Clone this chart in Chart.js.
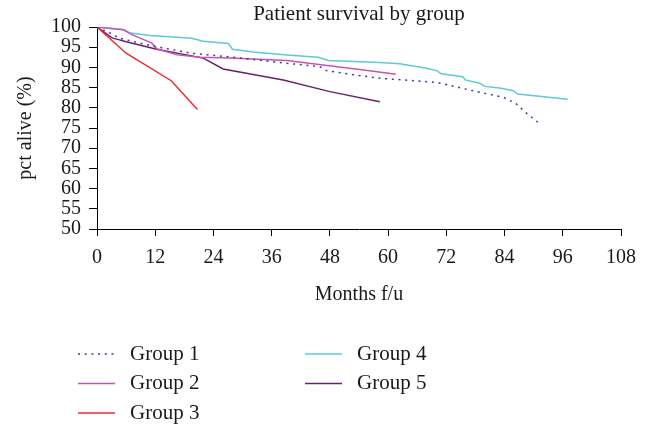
<!DOCTYPE html>
<html>
<head>
<meta charset="utf-8">
<script src="https://cdn.jsdelivr.net/npm/chart.js@4.4.1/dist/chart.umd.min.js"></script>
<style>
  html, body { margin: 0; padding: 0; background: #ffffff; }
  #wrap { width: 648px; height: 429px; position: relative; }
</style>
</head>
<body>
<div id="wrap"><canvas id="c" width="648" height="429"></canvas></div>
<script>
// ---- Data ----
const chartTitle = "Patient survival by group";
const xAxisTitle = "Months f/u";
const yAxisTitle = "pct alive (%)";
const groupLabels = ["Group 1", "Group 2", "Group 3", "Group 4", "Group 5"];

const g1Months = [0, 3.4, 4.4, 11, 19.5, 27.4, 37.7, 45.9, 47.3, 52.8, 58.3, 63.1, 70, 76.8, 83.7, 86.3, 88.3, 91.6];
const g1Alive  = [100, 98.1, 97.3, 95.4, 93.5, 92.6, 91.2, 90.2, 89.2, 88.2, 87.3, 86.9, 86.3, 84.4, 82.6, 81.1, 78.9, 75.7];

const g2Months = [0, 5.5, 7.2, 11.3, 12.3, 16.5, 21.3, 27.4, 39.1, 56.2, 61.6];
const g2Alive  = [100, 99.3, 98.1, 96.0, 94.6, 93.1, 92.5, 92.3, 91.7, 89.2, 88.3];

const g3Months = [0, 6, 15.3, 20.7];
const g3Alive  = [100, 93.5, 86.7, 79.6];

const g4Months = [0, 5.5, 6.85, 11, 19.5, 21.9, 27.1, 27.9, 32.2, 39.1, 45.6, 47.7, 58.3, 62.4, 67.9, 70, 71, 75.4, 75.9, 78.9, 79.9, 83, 85.7, 86.7, 97];
const g4Alive  = [100, 99.3, 98.5, 97.9, 97.2, 96.5, 95.9, 94.5, 93.8, 93.05, 92.5, 91.7, 91.2, 90.9, 89.8, 89.2, 88.4, 87.7, 86.9, 86.1, 85.3, 84.9, 84.3, 83.4, 82.1];

const g5Months = [0, 3.1, 6.85, 12.3, 21.9, 26, 38.4, 48, 58.3];
const g5Alive  = [100, 97.3, 96.1, 94.5, 92.3, 89.6, 86.9, 84.0, 81.5];

const xTicks = [0, 12, 24, 36, 48, 60, 72, 84, 96, 108];
const yTicks = [50, 55, 60, 65, 70, 75, 80, 85, 90, 95, 100];

// ---- Styling ----
const FONT = "'Liberation Serif', 'Times New Roman', serif";
const TEXT = '#1a1a1a';
const colors = ["#3d3d8f", "#c455b6", "#ee2a2a", "#5ec9d7", "#6b206e"];
const dashes = [[2, 4.7], [], [], [], []];

function pts(xs, ys) { return xs.map((x, i) => ({ x: x, y: ys[i] })); }
const series = [[g1Months, g1Alive], [g2Months, g2Alive], [g3Months, g3Alive], [g4Months, g4Alive], [g5Months, g5Alive]];

const datasets = series.map((s, i) => ({
  label: groupLabels[i],
  data: pts(s[0], s[1]),
  borderColor: colors[i],
  backgroundColor: colors[i],
  borderWidth: 1.5,
  borderDash: dashes[i],
  pointRadius: 0,
  fill: false,
  tension: 0
}));

// title centred over the plot area
const plotTitle = {
  id: 'plotTitle',
  afterDraw(chart) {
    const ctx = chart.ctx, a = chart.chartArea;
    ctx.save();
    ctx.font = "21px " + FONT;
    ctx.fillStyle = TEXT;
    ctx.textAlign = 'center';
    ctx.textBaseline = 'middle';
    ctx.fillText(chartTitle, (a.left + a.right) / 2, 14);
    ctx.restore();
  }
};

// custom two-column legend drawn from dataset properties
const legendLayout = {
  columns: [[0, 1, 2], [3, 4]],
  colX: [78, 305],
  rowY0: 354,
  rowGap: 29.5,
  lineLen: 37,
  textGap: 15
};
const columnLegend = {
  id: 'columnLegend',
  afterDraw(chart) {
    const ctx = chart.ctx;
    ctx.save();
    ctx.font = "21px " + FONT;
    ctx.textBaseline = 'middle';
    ctx.textAlign = 'left';
    legendLayout.columns.forEach((col, ci) => {
      col.forEach((dsIndex, ri) => {
        const ds = chart.data.datasets[dsIndex];
        const x = legendLayout.colX[ci];
        const y = legendLayout.rowY0 + ri * legendLayout.rowGap;
        ctx.beginPath();
        ctx.strokeStyle = ds.borderColor;
        ctx.lineWidth = ds.borderWidth;
        ctx.setLineDash(ds.borderDash || []);
        ctx.moveTo(x, y);
        ctx.lineTo(x + legendLayout.lineLen, y);
        ctx.stroke();
        ctx.setLineDash([]);
        ctx.fillStyle = TEXT;
        ctx.fillText(ds.label, x + legendLayout.lineLen + legendLayout.textGap, y);
      });
    });
    ctx.restore();
  }
};

new Chart(document.getElementById('c'), {
  type: 'line',
  data: { datasets: datasets },
  options: {
    responsive: false,
    animation: false,
    devicePixelRatio: 1,
    layout: { padding: { left: 0, right: 27, top: 27, bottom: 122 } },
    plugins: {
      legend: { display: false },
      tooltip: { enabled: false },
      title: { display: false }
    },
    scales: {
      x: {
        type: 'linear',
        min: 0, max: 108,
        afterBuildTicks(scale) { scale.ticks = xTicks.map(v => ({ value: v })); },
        afterFit(scale) { scale.height = 78; },
        grid: { display: true, drawOnChartArea: false, drawTicks: true, tickLength: 7, color: '#000', lineWidth: 1 },
        border: { display: true, color: '#000', width: 1 },
        ticks: { color: TEXT, font: { family: FONT, size: 20 }, padding: 10, maxRotation: 0, autoSkip: false },
        title: { display: true, text: xAxisTitle, color: TEXT, font: { family: FONT, size: 20 }, padding: 0 }
      },
      y: {
        type: 'linear',
        min: 50, max: 100,
        afterBuildTicks(scale) { scale.ticks = yTicks.map(v => ({ value: v })); },
        afterFit(scale) { scale.width = 97; },
        grid: { display: true, drawOnChartArea: false, drawTicks: true, tickLength: 8, color: '#000', lineWidth: 1 },
        border: { display: true, color: '#000', width: 1 },
        ticks: { color: TEXT, font: { family: FONT, size: 20 }, padding: 8, autoSkip: false },
        title: { display: true, text: yAxisTitle, color: TEXT, font: { family: FONT, size: 20 }, padding: { top: 14, bottom: 0 } }
      }
    }
  },
  plugins: [plotTitle, columnLegend]
});
</script>
</body>
</html>
